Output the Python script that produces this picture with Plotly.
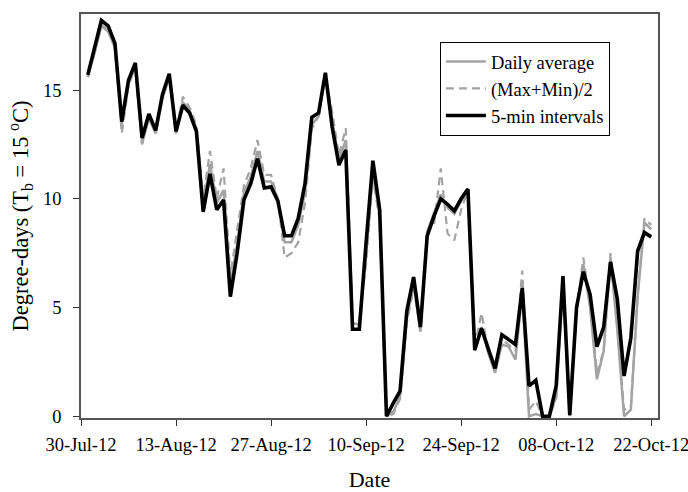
import pandas as pd
import plotly.graph_objects as go

# Daily series, 31 Jul 2012 to 22 Oct 2012
dates = pd.date_range("2012-07-31", "2012-10-22", freq="D")

daily_average = [
    15.6, 16.7, 17.95, 17.7, 16.95, 13.4, 15.3, 16.1, 12.55, 13.7,
    13.0, 14.6, 15.6, 13.0, 14.45, 14.05, 13.2, 9.7, 11.6, 9.8,
    10.4, 6.0, 7.9, 10.3, 11.0, 12.2, 10.8, 10.8, 10.0, 8.0,
    8.0, 8.8, 10.3, 13.4, 13.8, 15.7, 13.6, 11.8, 12.7, 4.3,
    4.2, 7.4, 11.2, 9.2, 0.0, 0.2, 0.9, 4.5, 6.2, 3.9,
    8.5, 9.4, 10.2, 9.6, 9.3, 9.9, 10.4, 3.0, 4.1, 2.9,
    2.0, 3.3, 3.2, 2.6, 5.7, 0.0, 0.1, 0.0, 0.0, 0.9,
    6.1, 0.0, 4.9, 7.0, 5.0, 1.7, 3.0, 7.3, 4.0, 0.0,
    0.3, 5.5, 8.9, 8.6,
]

max_min_half = [
    15.6, 16.8, 18.0, 17.8, 17.1, 13.0, 15.2, 16.1, 12.5, 13.8,
    13.1, 14.8, 15.7, 13.1, 14.7, 14.2, 13.4, 10.0, 12.2, 10.0,
    11.4, 6.5, 8.5, 10.6, 11.4, 12.7, 11.1, 11.1, 10.0, 7.3,
    7.5, 8.0, 9.8, 13.2, 13.8, 15.7, 14.0, 12.0, 13.25, 4.6,
    4.4, 7.0, 11.0, 9.0, 0.0, 0.1, 0.8, 4.3, 5.9, 3.9,
    8.5, 8.8, 11.4, 8.4, 8.1, 9.5, 10.4, 3.2, 4.75, 3.0,
    2.1, 3.5, 3.3, 3.0, 6.7, 0.3, 0.7, 0.0, 0.0, 0.8,
    6.3, 0.0, 4.8, 7.3, 5.2, 2.0, 3.0, 7.5, 4.1, 0.3,
    0.4, 5.5, 9.1, 8.8,
]

five_min = [
    15.7, 16.95, 18.2, 17.95, 17.15, 13.55, 15.45, 16.25, 12.8, 13.9,
    13.15, 14.8, 15.75, 13.1, 14.3, 13.95, 13.1, 9.4, 11.15, 9.5,
    9.95, 5.5, 7.5, 9.95, 10.7, 11.85, 10.5, 10.55, 9.9, 8.3,
    8.3, 9.1, 10.7, 13.75, 13.95, 15.8, 13.3, 11.55, 12.25, 4.0,
    4.0, 8.0, 11.75, 9.5, 0.0, 0.6, 1.15, 4.85, 6.4, 4.1,
    8.3, 9.2, 10.0, 9.75, 9.45, 10.0, 10.45, 3.05, 4.05, 3.1,
    2.2, 3.75, 3.5, 3.3, 5.9, 1.4, 1.65, 0.0, 0.0, 1.4,
    6.45, 0.05, 5.0, 6.65, 5.6, 3.2, 4.1, 7.1, 5.4, 1.85,
    3.6, 7.6, 8.45, 8.25,
]

y_ticks = [0, 5, 10, 15]

serif = "Liberation Serif, Times New Roman, serif"
gray = "#a3a3a3"

fig = go.Figure()
fig.add_trace(go.Scatter(
    x=dates, y=daily_average, mode="lines", name="Daily average",
    line=dict(color=gray, width=2.5),
))
fig.add_trace(go.Scatter(
    x=dates, y=max_min_half, mode="lines", name="(Max+Min)/2",
    line=dict(color=gray, width=2.2, dash="8px,5px"),
))
fig.add_trace(go.Scatter(
    x=dates, y=five_min, mode="lines", name="5-min intervals",
    line=dict(color="black", width=3.6),
))

fig.update_layout(
    width=688, height=492,
    margin=dict(l=81, r=30, t=14, b=74),
    paper_bgcolor="white", plot_bgcolor="white",
    font=dict(family=serif, size=18, color="black"),
    showlegend=True,
    legend=dict(
        x=0.622, y=0.931, xanchor="left", yanchor="top",
        bordercolor="black", borderwidth=1, bgcolor="white",
        font=dict(family=serif, size=18.5),
        tracegroupgap=0, itemwidth=40,
    ),
)

fig.update_xaxes(
    type="date",
    range=["2012-07-30", "2012-10-23"],
    tick0="2012-07-30", dtick=14 * 24 * 3600 * 1000,
    tickformat="%d-%b-%y",
    ticks="outside", ticklen=6, tickcolor="#333", tickwidth=1.2,
    ticklabelstandoff=3, ticklabeloverflow="allow",
    automargin=False,
    showline=True, linecolor="#555", linewidth=1.5, mirror=True,
    showgrid=False, zeroline=False,
    tickfont=dict(family=serif, size=18.5),
    title=dict(text="Date", font=dict(family=serif, size=22), standoff=22),
)
fig.update_yaxes(
    range=[-0.08, 18.5],
    tickvals=y_ticks,
    ticks="outside", ticklen=6, tickcolor="#333", tickwidth=1.2,
    ticklabelstandoff=8, automargin=False,
    showline=True, linecolor="#555", linewidth=1.5, mirror=True,
    showgrid=False, zeroline=False,
    tickfont=dict(family=serif, size=18.5),
    title=dict(text="Degree-days (T<sub>b</sub> = 15 <sup>o</sup>C)",
               font=dict(family=serif, size=22.5), standoff=8),
)

fig.write_html("out.html")
